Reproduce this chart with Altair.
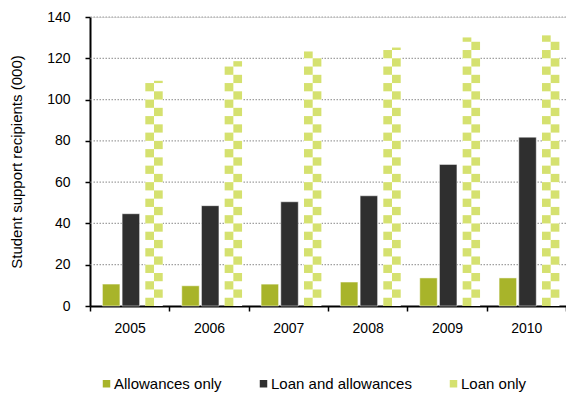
import altair as alt
import pandas as pd

years = ["2005", "2006", "2007", "2008", "2009", "2010"]
allowances_only = [10.6, 9.8, 10.6, 11.6, 13.6, 13.6]
loan_and_allowances = [44.7, 48.6, 50.5, 53.4, 68.6, 81.8]
loan_only = [109.1, 118.6, 123.3, 125.2, 130.1, 131.1]
y_ticks = [0, 20, 40, 60, 80, 100, 120, 140]

series_names = ["Allowances only", "Loan and allowances", "Loan only"]
series_colors = ["#a8b42a", "#2f2f2f", "#d5e16f"]

rows = []
for y, a, b, c in zip(years, allowances_only, loan_and_allowances, loan_only):
    rows.append({"year": y, "series": series_names[0], "value": a})
    rows.append({"year": y, "series": series_names[1], "value": b})
    rows.append({"year": y, "series": series_names[2], "value": c})
df = pd.DataFrame(rows)
grid_df = pd.DataFrame({"value": [t for t in y_ticks if t > 0]})

# checkerboard segments for the "Loan only" bars, derived from the values
CHECK = 4.0
seg = []
for y, v in zip(years, loan_only):
    k = 0
    while k * CHECK < v:
        seg.append({"year": y, "series": "Loan only", "value": k * CHECK,
                    "y1": min((k + 1) * CHECK, v), "col": "L" if k % 2 == 0 else "R"})
        k += 1
seg_df = pd.DataFrame(seg)

FONT = "Liberation Sans"
BW = 17.5
HALF = 8.7

x_enc = alt.X("year:N", sort=years, title=None,
              scale=alt.Scale(paddingInner=0, paddingOuter=0),
              axis=alt.Axis(tickBand="extent", labelAngle=0, labelFont=FONT,
                            labelFontSize=14, labelColor="black", labelPadding=10,
                            domainColor="black", domainWidth=2, tickColor="black",
                            tickWidth=1.5, tickSize=5, grid=False))
y_scale = alt.Scale(domain=[0, 140], nice=False)
y_axis = alt.Axis(values=y_ticks,
                  title="Student support recipients (000)", titleFont=FONT,
                  titleFontSize=15, titleFontWeight="normal", titleColor="black",
                  titlePadding=22, labelFont=FONT, labelFontSize=14,
                  labelColor="black", labelPadding=15, domainColor="black",
                  domainWidth=2, tickColor="black", tickWidth=1.5, tickSize=5,
                  grid=False)
y_enc = alt.Y("value:Q", scale=y_scale, axis=y_axis)
color = alt.Color("series:N",
                  scale=alt.Scale(domain=series_names, range=series_colors),
                  legend=alt.Legend(title=None, orient="none", direction="horizontal",
                                    legendX=9, legendY=359, padding=0,
                                    symbolType="square", symbolSize=56,
                                    symbolStrokeWidth=0, labelFont=FONT,
                                    labelFontSize=15, labelColor="black",
                                    labelOffset=0, columnPadding=34))

grid = alt.Chart(grid_df).mark_rule(
    color="#a0a0a0", strokeDash=[1.5, 1.5], strokeWidth=1.2
).encode(y=y_enc)

base = alt.Chart(df)

allow = base.transform_filter(alt.datum.series == series_names[0]).mark_bar(
    width=BW, xOffset=-18.5, stroke="white", strokeWidth=1, strokeOpacity=0.5
).encode(x=x_enc, y=y_enc, color=color)

loanall = base.transform_filter(alt.datum.series == series_names[1]).mark_bar(
    width=BW, xOffset=1.2, stroke="white", strokeWidth=1, strokeOpacity=0.5
).encode(x=x_enc, y=y_enc, color=color)

loan_bg = base.transform_filter(alt.datum.series == series_names[2]).mark_bar(
    width=BW, xOffset=24.35, color="white"
).encode(x=x_enc, y=y_enc)

segs = alt.Chart(seg_df)
checkL = segs.transform_filter(alt.datum.col == "L").mark_bar(
    width=HALF, xOffset=24.35 - HALF / 2
).encode(x=x_enc, y=y_enc, y2="y1:Q", color=color)
checkR = segs.transform_filter(alt.datum.col == "R").mark_bar(
    width=HALF, xOffset=24.35 + HALF / 2
).encode(x=x_enc, y=y_enc, y2="y1:Q", color=color)

chart = alt.layer(grid, allow, loanall, loan_bg, checkL, checkR).properties(
    width=476, height=289,
    autosize=alt.AutoSizeParams(type="none"),
    padding={"left": 90, "top": 17, "right": 0, "bottom": 88},
).configure_view(stroke=None).configure(background="white")

chart.save("out.html", embed_options={"renderer": "svg", "actions": False})
